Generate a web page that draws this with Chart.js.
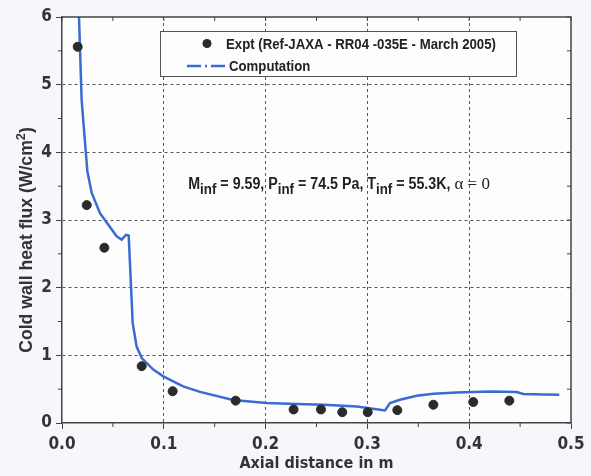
<!DOCTYPE html>
<html>
<head>
<meta charset="utf-8">
<script src="https://cdn.jsdelivr.net/npm/chart.js@4.4.0/dist/chart.umd.min.js"></script>
<style>
  html, body { margin: 0; padding: 0; background: #f6f7fa; }
  #wrap { width: 591px; height: 476px; }
</style>
</head>
<body>
<div id="wrap"><canvas id="myChart" width="591" height="476"></canvas></div>
<script>
const exptX = [0.0154, 0.0243, 0.0416, 0.0783, 0.1087, 0.1706, 0.2275, 0.2544, 0.2753, 0.3003, 0.3294, 0.3648, 0.4040, 0.4394]
const exptY = [5.56, 3.22, 2.59, 0.84, 0.47, 0.33, 0.20, 0.20, 0.16, 0.16, 0.19, 0.27, 0.31, 0.33]

// computed curve
const compX = [0.0160, 0.0167, 0.0193, 0.0249, 0.0292, 0.0373, 0.0455, 0.0537, 0.0586, 0.0629, 0.0655, 0.0675, 0.0694,
  0.0733, 0.0783, 0.0897, 0.0995, 0.1190, 0.1356, 0.1680, 0.2010, 0.2300, 0.2567, 0.2895, 0.3124, 0.3173, 0.3222,
  0.3320, 0.3484, 0.3648, 0.3877, 0.4204, 0.4466, 0.4532, 0.4728, 0.4885]
const compY = [6.30, 6.00, 4.77, 3.72, 3.40, 3.10, 2.93, 2.76, 2.71, 2.78, 2.77, 2.12, 1.48,
  1.13, 0.96, 0.79, 0.69, 0.54, 0.46, 0.34, 0.295, 0.28, 0.27, 0.245, 0.197, 0.186, 0.295,
  0.344, 0.403, 0.433, 0.452, 0.467, 0.458, 0.428, 0.423, 0.418]

const xTicks = [0, 0.1, 0.2, 0.3, 0.4, 0.5]
const xMinorTicks = [0.05, 0.15, 0.25, 0.35, 0.45]
const yTicks = [0, 1, 2, 3, 4, 5, 6]
const yMinorTicks = [0.5, 1.5, 2.5, 3.5, 4.5, 5.5]

const legendLabels = ['Expt (Ref-JAXA - RR04 -035E - March 2005)', 'Computation']
const xTitle = 'Axial distance in m'
const yTitle = 'Cold wall heat flux (W/cm'
const annotationParts = [
  { t: 'M' }, { t: 'inf', sub: true }, { t: ' = 9.59, P' }, { t: 'inf', sub: true },
  { t: ' = 74.5 Pa, T' }, { t: 'inf', sub: true }, { t: ' = 55.3K, ' }, { t: 'α = 0', greek: true }
]

const COND = '"DejaVu Sans Condensed", "Liberation Sans", sans-serif'
const ARIAL = '"Liberation Sans", Arial, sans-serif'
const DOT = '#2b2b2e'
const BLUE = '#3a6bd1'
const AXIS = '#444'

// draws horizontally squeezed text, returns the width used
function narrowText (ctx, text, x, y, font, sx) {
  ctx.save()
  ctx.font = font
  ctx.translate(x, y)
  ctx.scale(sx, 1)
  ctx.fillText(text, 0, 0)
  const w = ctx.measureText(text).width * sx
  ctx.restore()
  return w
}

const frame = {
  id: 'frame',
  beforeDraw(chart) {
    const { ctx, chartArea: a } = chart
    ctx.save()
    ctx.fillStyle = '#fdfdfe'
    ctx.fillRect(a.left, a.top, a.right - a.left, a.bottom - a.top)
    ctx.restore()
  },
  afterDraw(chart) {
    const { ctx, chartArea: a, scales } = chart
    const x = scales.x, y = scales.y
    ctx.save()
    ctx.strokeStyle = AXIS
    ctx.lineWidth = 1.5
    ctx.beginPath()
    ctx.moveTo(a.left, a.top); ctx.lineTo(a.right, a.top); ctx.lineTo(a.right, a.bottom)
    ctx.stroke()
    ctx.lineWidth = 1
    ctx.beginPath()
    xMinorTicks.forEach(v => { const p = x.getPixelForValue(v); ctx.moveTo(p, a.bottom); ctx.lineTo(p, a.bottom + 4) })
    yMinorTicks.forEach(v => { const p = y.getPixelForValue(v); ctx.moveTo(a.left, p); ctx.lineTo(a.left - 4, p) })
    xTicks.concat(xMinorTicks).forEach(v => { const p = x.getPixelForValue(v); ctx.moveTo(p, a.top); ctx.lineTo(p, a.top + 4) })
    yTicks.concat(yMinorTicks).forEach(v => { const p = y.getPixelForValue(v); ctx.moveTo(a.right, p); ctx.lineTo(a.right - 4, p) })
    ctx.stroke()
    ctx.restore()

    // y title, rotated, with a raised 2
    ctx.save()
    ctx.translate(27, 240)
    ctx.rotate(-Math.PI / 2)
    ctx.fillStyle = '#333'
    ctx.textBaseline = 'middle'
    const sq = 0.98
    const big = 'bold 18px ' + ARIAL, small = 'bold 13px ' + ARIAL
    ctx.font = big
    const w1 = ctx.measureText(yTitle).width * sq, w3 = ctx.measureText(')').width * sq
    ctx.font = small
    const w2 = ctx.measureText('2').width * sq
    let cx = -(w1 + w2 + w3) / 2
    cx += narrowText(ctx, yTitle, cx, 0, big, sq)
    cx += narrowText(ctx, '2', cx, -6, small, sq)
    narrowText(ctx, ')', cx, 0, big, sq)
    ctx.restore()

    // legend box
    ctx.save()
    const lx = a.left + 98, ly = a.top + 14, lw = 356, lh = 45
    ctx.fillStyle = '#fdfdfe'
    ctx.fillRect(lx, ly, lw, lh)
    ctx.strokeStyle = '#555'
    ctx.lineWidth = 1
    ctx.strokeRect(lx + 0.5, ly + 0.5, lw, lh)
    ctx.fillStyle = DOT
    ctx.beginPath(); ctx.arc(lx + 47, ly + 12.5, 4.5, 0, Math.PI * 2); ctx.fill()
    ctx.strokeStyle = BLUE; ctx.lineWidth = 2.5
    ctx.setLineDash([14, 4, 2, 4]); ctx.beginPath()
    ctx.moveTo(lx + 27, ly + 35); ctx.lineTo(lx + 68, ly + 35); ctx.stroke()
    ctx.setLineDash([])
    ctx.fillStyle = '#222'
    ctx.textBaseline = 'alphabetic'
    narrowText(ctx, legendLabels[0], lx + 66, ly + 18, 'bold 15px ' + ARIAL, 0.88)
    narrowText(ctx, legendLabels[1], lx + 69, ly + 40, 'bold 15px ' + ARIAL, 0.88)
    ctx.restore()

    // annotation
    ctx.save()
    let ax = x.getPixelForValue(0.124)
    const ay = y.getPixelForValue(3.46)
    ctx.fillStyle = '#222'
    ctx.textBaseline = 'alphabetic'
    annotationParts.forEach(p => {
      if (p.greek) {
        ax += narrowText(ctx, p.t, ax, ay, '17px "Liberation Serif", serif', 1)
      } else if (p.sub) {
        ax += narrowText(ctx, p.t, ax, ay + 5, 'bold 15px ' + ARIAL, 0.89)
      } else {
        ax += narrowText(ctx, p.t, ax, ay, 'bold 16px ' + ARIAL, 0.89)
      }
    })
    ctx.restore()
  }
}

const ctx = document.getElementById('myChart').getContext('2d')
new Chart(ctx, {
  type: 'scatter',
  data: {
    datasets: [
      {
        label: legendLabels[0],
        data: exptX.map((v, i) => ({ x: v, y: exptY[i] })),
        backgroundColor: DOT,
        borderColor: DOT,
        pointRadius: 4.5,
        pointHoverRadius: 4.5,
        showLine: false,
        order: 1
      },
      {
        label: legendLabels[1],
        data: compX.map((v, i) => ({ x: v, y: compY[i] })),
        borderColor: BLUE,
        backgroundColor: BLUE,
        borderWidth: 2.5,
        showLine: true,
        pointRadius: 0,
        tension: 0,
        order: 2
      }
    ]
  },
  options: {
    responsive: false,
    animation: false,
    layout: { padding: { top: 17, right: 20, left: 0, bottom: 0 } },
    plugins: { legend: { display: false }, tooltip: { enabled: false } },
    scales: {
      x: {
        type: 'linear', min: 0, max: 0.5,
        afterFit: s => { s.height = 53 },
        afterBuildTicks: s => { s.ticks = xTicks.map(v => ({ value: v })) },
        ticks: { callback: v => v.toFixed(1), font: { family: COND, size: 17, weight: 'bold' }, color: '#333', padding: 5, maxRotation: 0 },
        grid: { color: c => (c.tick && (c.tick.value === 0 || c.tick.value === 0.5)) ? 'rgba(0,0,0,0)' : '#555', tickColor: AXIS, tickLength: 6, lineWidth: 1 },
        border: { color: AXIS, width: 1.5, dash: [3, 3] },
        title: { display: true, text: xTitle, font: { family: COND, size: 16, weight: 'bold' }, color: '#333', padding: { top: 0, bottom: 3 } }
      },
      y: {
        type: 'linear', min: 0, max: 6,
        afterFit: s => { s.width = 62 },
        afterBuildTicks: s => { s.ticks = yTicks.map(v => ({ value: v })) },
        ticks: { font: { family: COND, size: 17, weight: 'bold' }, color: '#333', padding: 4 },
        grid: { color: c => (c.tick && (c.tick.value === 0 || c.tick.value === 6)) ? 'rgba(0,0,0,0)' : '#555', tickColor: AXIS, tickLength: 6, lineWidth: 1 },
        border: { color: AXIS, width: 1.5, dash: [3, 3] }
      }
    }
  },
  plugins: [frame]
})
</script>
</body>
</html>
